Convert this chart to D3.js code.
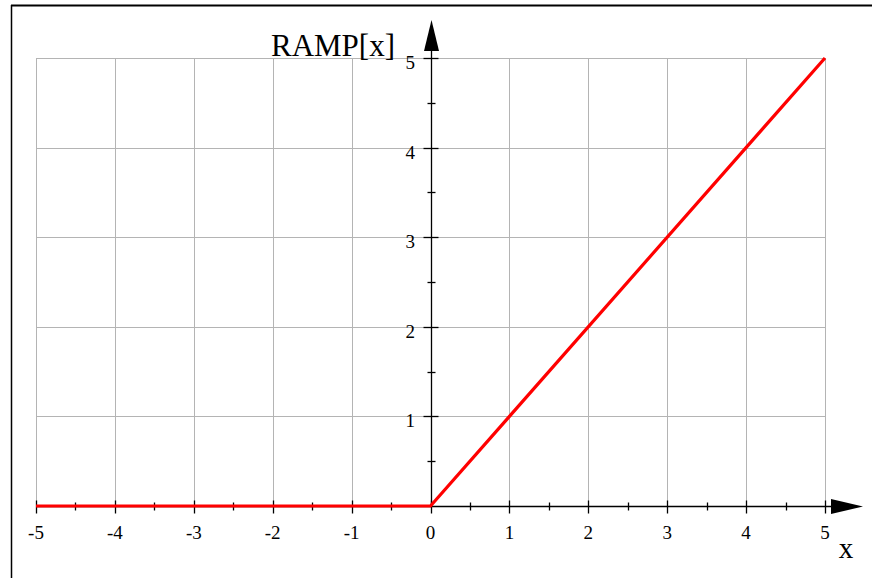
<!DOCTYPE html>
<html>
<head>
<meta charset="utf-8">
<script src="https://cdn.jsdelivr.net/npm/d3@7"></script>
<style>
  body { margin: 0; background: #fff; }
  svg { display: block; }
  text { font-family: "Liberation Serif", "DejaVu Serif", serif; fill: #000; }
</style>
</head>
<body>
<div id="chart"></div>
<script>
// RAMP[x] plot data
const xPoints = [-5, 0, 5];
const yPoints = [0, 0, 5];
const xTicks = [-5, -4, -3, -2, -1, 0, 1, 2, 3, 4, 5];
const xMinorTicks = [-4.5, -3.5, -2.5, -1.5, -0.5, 0.5, 1.5, 2.5, 3.5, 4.5];
const yTicks = [1, 2, 3, 4, 5];
const yMinorTicks = [0.5, 1.5, 2.5, 3.5, 4.5];
const yLabel = 'RAMP[x]';
const xLabel = 'x';

const W = 872, H = 578;
const svg = d3.select('#chart').append('svg').attr('width', W).attr('height', H);

const x = d3.scaleLinear().domain([-5, 5]).range([36, 825]);
const y = d3.scaleLinear().domain([0, 5]).range([506, 58]);

// outer frame (top + left visible)
svg.append('line').attr('x1', 11).attr('x2', W).attr('y1', 5.5).attr('y2', 5.5)
  .attr('stroke', '#000').attr('stroke-width', 2);
svg.append('line').attr('x1', 11.5).attr('x2', 11.5).attr('y1', 5).attr('y2', H)
  .attr('stroke', '#000').attr('stroke-width', 1.5);

// grid
const grid = svg.append('g').attr('stroke', '#b4b4b4').attr('stroke-width', 1);
grid.selectAll('.gx').data(xTicks).join('line')
  .attr('x1', d => Math.round(x(d)) + 0.5).attr('x2', d => Math.round(x(d)) + 0.5)
  .attr('y1', y(5)).attr('y2', y(0));
grid.selectAll('.gy').data(yTicks).join('line')
  .attr('x1', x(-5)).attr('x2', x(5))
  .attr('y1', d => Math.round(y(d)) + 0.5).attr('y2', d => Math.round(y(d)) + 0.5);

// axes
const x0 = Math.round(x(0)) + 0.5, y0 = Math.round(y(0)) + 0.5;
const ax = svg.append('g').attr('stroke', '#000').attr('stroke-width', 1.3);
ax.append('line').attr('x1', x(-5)).attr('x2', 835).attr('y1', y0).attr('y2', y0);
ax.append('line').attr('x1', x0).attr('x2', x0).attr('y1', y0).attr('y2', 45);

// x ticks
ax.selectAll('.xt').data(xTicks).join('line')
  .attr('x1', d => Math.round(x(d)) + 0.5).attr('x2', d => Math.round(x(d)) + 0.5)
  .attr('y1', y0 - 6).attr('y2', y0 + 7);
ax.selectAll('.xm').data(xMinorTicks).join('line')
  .attr('x1', d => Math.round(x(d)) + 0.5).attr('x2', d => Math.round(x(d)) + 0.5)
  .attr('y1', y0 - 4).attr('y2', y0 + 4);
// y ticks
ax.selectAll('.yt').data(yTicks).join('line')
  .attr('x1', x0 - 8).attr('x2', x0 + 7)
  .attr('y1', d => Math.round(y(d)) + 0.5).attr('y2', d => Math.round(y(d)) + 0.5);
ax.selectAll('.ym').data(yMinorTicks).join('line')
  .attr('x1', x0 - 4).attr('x2', x0 + 4)
  .attr('y1', d => Math.round(y(d)) + 0.5).attr('y2', d => Math.round(y(d)) + 0.5);

// arrowheads
svg.append('path')
  .attr('d', `M${x0},20 L${x0 + 7.5},51 L${x0 - 7.5},51 Z`).attr('fill', '#000');
svg.append('path')
  .attr('d', `M863,${y0} L831,${y0 - 7.5} L831,${y0 + 7.5} Z`).attr('fill', '#000');

// tick labels
svg.selectAll('.xl').data(xTicks).join('text')
  .attr('x', d => x(d)).attr('y', 539)
  .attr('text-anchor', 'middle').attr('font-size', '19px')
  .text(d => d);
svg.selectAll('.yl').data(yTicks).join('text')
  .attr('x', 415).attr('y', d => y(d) + 11)
  .attr('text-anchor', 'end').attr('font-size', '19px')
  .text(d => d);

// axis titles
svg.append('text').attr('x', 395).attr('y', 56).attr('text-anchor', 'end')
  .attr('font-size', '31px').text(yLabel);
svg.append('text').attr('x', 846).attr('y', 558).attr('text-anchor', 'middle')
  .attr('font-size', '29px').text(xLabel);

// ramp curve
const line = d3.line().x((d, i) => x(xPoints[i])).y(d => y(d));
svg.append('path').datum(yPoints).attr('d', line)
  .attr('fill', 'none').attr('stroke', '#ff0000').attr('stroke-width', 3.2)
  .attr('stroke-linejoin', 'round');
</script>
</body>
</html>
